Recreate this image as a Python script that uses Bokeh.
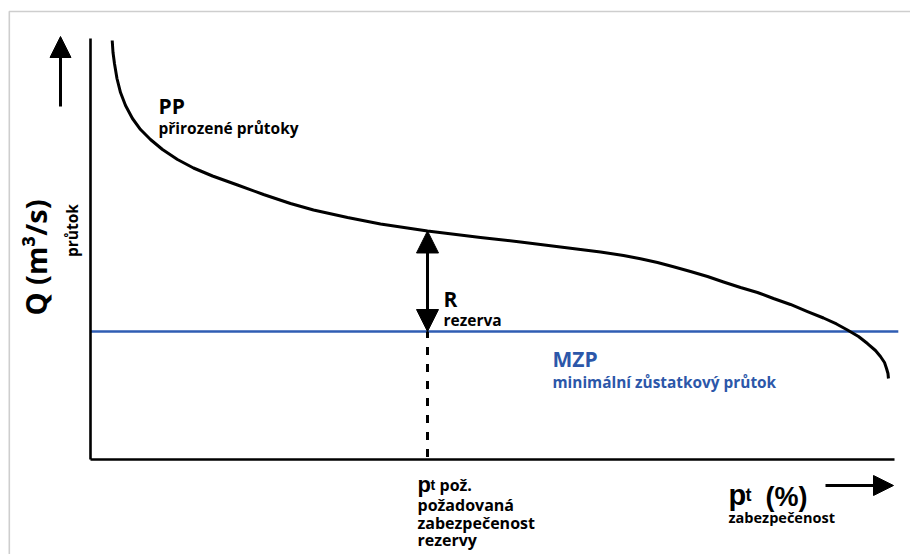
import math
from bokeh.plotting import figure
from bokeh.models import Label, Arrow, NormalHead, BoxAnnotation, Range1d, LinearAxis
from bokeh.embed import file_html
from bokeh.resources import INLINE

# ---- data (x = zabezpečenost %, y = průtok, relative units) ----
curve_pt = [2.69, 2.79, 2.97, 3.28, 3.72, 4.34, 5.20, 6.20, 7.43, 8.92, 10.78, 12.76,
            15.12, 18.22, 21.44, 24.78, 27.63, 31.85, 35.94, 41.76, 48.33, 53.28, 58.24,
            63.20, 66.05, 68.15, 70.26, 72.24, 74.35, 76.46, 78.44, 80.55, 82.65, 84.63,
            86.74, 88.85, 90.83, 92.44, 93.80, 95.17, 96.28, 97.27, 97.89, 98.39, 98.64,
            98.82, 98.88]
curve_q = [99.52, 96.67, 94.06, 90.50, 87.17, 84.09, 81.00, 78.38, 76.01, 73.63, 71.26,
           69.24, 67.34, 65.20, 62.95, 60.81, 59.26, 57.48, 55.94, 54.28, 52.73, 51.66,
           50.48, 49.29, 48.46, 47.70, 46.79, 45.80, 44.66, 43.47, 42.16, 40.86, 39.67,
           38.24, 36.82, 35.15, 33.61, 32.19, 30.76, 29.22, 27.55, 25.89, 24.47, 23.04,
           21.62, 20.43, 19.24]
q_mzp = 30.4          # minimální zůstatkový průtok
pt_req = 41.76        # požadovaná zabezpečenost
q_at_req = 54.28      # průtok PP při pt_req

BLUE_LINE = "#2f5db3"
BLUE_TEXT = "#2c57a9"
FONT = "Open Sans"
FONT2 = "Liberation Sans"

W, H = 910, 554
X0, XS = 90.0, 8.07      # pixel of x=0, pixels per unit
Y0, YS = 459.0, 4.21     # pixel of y=0, pixels per unit


def px(xp):
    return (xp - X0) / XS


def py(yp):
    return (Y0 - yp) / YS


p = figure(width=W, height=H, output_backend="svg", toolbar_location=None,
           x_range=Range1d(px(0), px(W)), y_range=Range1d(py(H), py(0)),
           x_axis_location=None, y_axis_location=None, min_border=0)
p.grid.visible = False
p.outline_line_color = None
p.background_fill_color = "white"
p.border_fill_color = "white"

xax = LinearAxis(fixed_location=0, bounds=(0, 99.6))
yax = LinearAxis(fixed_location=0, bounds=(0, 100))
for ax in (xax, yax):
    ax.axis_line_width = 2.6
    ax.axis_line_color = "black"
    ax.major_tick_line_color = None
    ax.minor_tick_line_color = None
    ax.major_label_text_font_size = "0px"
    ax.major_label_text_color = None
p.add_layout(xax, "below")
p.add_layout(yax, "left")

# outer grey frame
p.add_layout(BoxAnnotation(left=px(8.8), right=px(W + 30), top=py(11), bottom=py(H + 30),
                           fill_color=None, line_color="#5e5e5e", line_width=1.6))

# MZP line
p.line(x=[0, 100.1], y=[q_mzp, q_mzp], line_color=BLUE_LINE, line_width=2.4)
# PP curve
p.line(x=curve_pt, y=curve_q, line_color="black", line_width=3, line_join="round")
# dashed vertical at required reliability
p.line(x=[pt_req, pt_req], y=[0.6, q_mzp], line_color="black", line_width=3, line_dash="8 9")
# reserve double arrow
p.add_layout(Arrow(x_start=pt_req, y_start=q_mzp, x_end=pt_req, y_end=q_at_req,
                   line_width=3, line_color="black",
                   start=NormalHead(size=22, fill_color="black", line_color="black"),
                   end=NormalHead(size=22, fill_color="black", line_color="black")))
# axis arrows
p.add_layout(Arrow(x_start=px(60), y_start=py(106), x_end=px(60), y_end=py(36),
                   line_width=3, line_color="black",
                   end=NormalHead(size=21, fill_color="black", line_color="black")))
p.add_layout(Arrow(x_start=px(825), y_start=py(485), x_end=px(893), y_end=py(485),
                   line_width=3, line_color="black",
                   end=NormalHead(size=20, fill_color="black", line_color="black")))


def lab(x, y, text, size, color="black", style="bold", font=FONT, angle=0,
        align="left", baseline="alphabetic"):
    p.add_layout(Label(x=px(x), y=py(y), text=text, text_font=font,
                       text_font_size=f"{size}px", text_font_style=style,
                       text_color=color, angle=angle, text_align=align,
                       text_baseline=baseline))


lab(158, 105, "PP", 21)
lab(158, 127, "přirozené průtoky", 15.5)
lab(443, 298, "R", 21)
lab(443, 319, "rezerva", 15.5)
lab(552, 358, "MZP", 21, color=BLUE_TEXT)
lab(552, 382, "minimální zůstatkový průtok", 15.4, color=BLUE_TEXT)

# x label block under required reliability
lab(417, 484, "p", 22, font=FONT2)
lab(430, 484, "t", 14, font=FONT2)
lab(439, 484, "pož.", 16)
lab(417, 504, "požadovaná", 16)
lab(417, 522, "zabezpečenost", 16)
lab(417, 539, "rezervy", 16)

# x axis title
lab(728, 494, "p", 29, font=FONT2)
lab(745, 494, "t", 18, font=FONT2)
lab(765, 496, "(%)", 27, font=FONT2)
lab(728, 517, "zabezpečenost", 14.5)

# y axis title
lab(35, 257, "Q (m³/s)", 29, angle=math.pi / 2, align="center", baseline="middle")
lab(71, 230, "průtok", 15.5, angle=math.pi / 2, align="center", baseline="middle")

open("out.html", "w").write(file_html(p, INLINE))
